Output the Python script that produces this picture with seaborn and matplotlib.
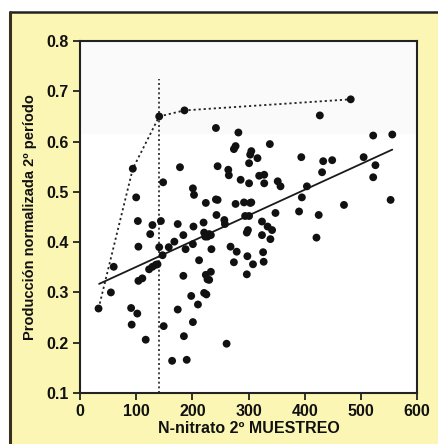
import numpy as np
import pandas as pd
import seaborn as sns
import matplotlib
import matplotlib.pyplot as plt
from matplotlib.patches import Rectangle
from matplotlib.lines import Line2D

matplotlib.use("Agg")

# puntos observados (N-nitrato, produccion normalizada)
nitrato = [
    33, 55, 60, 94, 100, 103, 104, 104, 111, 91, 92, 102, 117, 125, 129, 123,
    129, 135, 138, 141, 144, 141, 147, 148, 149, 158, 164, 174, 168, 174, 178,
    184, 184, 185, 190, 188, 186, 201, 203, 202, 201, 198, 201, 210, 212, 220,
    221, 224, 223, 227, 230, 233, 224, 227, 230, 221, 225, 233, 234, 242, 242,
    245, 243, 245, 257, 258, 261, 264, 265, 268, 274, 277, 274, 279, 277, 282,
    286, 292, 294, 297, 299, 298, 297, 301, 301, 303, 305, 303, 305, 301, 308,
    316, 319, 324, 324, 326, 327, 328, 328, 334, 338, 339, 342, 348, 352, 357,
    390, 394, 395, 404, 421, 425, 427, 431, 433, 449, 470, 505, 522, 522, 526,
    553, 556, 482,
]
produccion = [
    0.268, 0.300, 0.351, 0.546, 0.489, 0.442, 0.391, 0.323, 0.328, 0.269, 0.236,
    0.258, 0.206, 0.416, 0.434, 0.346, 0.351, 0.355, 0.356, 0.650, 0.442, 0.390,
    0.374, 0.519, 0.233, 0.390, 0.164, 0.266, 0.401, 0.436, 0.549, 0.414, 0.333,
    0.213, 0.166, 0.386, 0.662, 0.507, 0.494, 0.431, 0.396, 0.293, 0.241, 0.276,
    0.364, 0.439, 0.419, 0.478, 0.411, 0.411, 0.416, 0.414, 0.335, 0.326, 0.325,
    0.299, 0.296, 0.341, 0.386, 0.627, 0.485, 0.484, 0.454, 0.551, 0.444, 0.436,
    0.198, 0.544, 0.533, 0.391, 0.585, 0.591, 0.360, 0.381, 0.476, 0.618, 0.524,
    0.479, 0.452, 0.419, 0.424, 0.372, 0.336, 0.517, 0.557, 0.574, 0.581, 0.478,
    0.479, 0.452, 0.356, 0.567, 0.532, 0.441, 0.414, 0.380, 0.361, 0.534, 0.517,
    0.431, 0.595, 0.406, 0.424, 0.458, 0.521, 0.511, 0.461, 0.569, 0.489, 0.511,
    0.409, 0.454, 0.652, 0.539, 0.561, 0.563, 0.474, 0.569, 0.529, 0.612, 0.553,
    0.484, 0.614, 0.684,
]

# linea limite superior
limite_x = [33, 94, 141, 186, 482]
limite_y = [0.268, 0.546, 0.650, 0.662, 0.684]

# recta de regresion (extremos)
recta_x = [34, 556]
recta_y = [0.317, 0.584]

# umbral critico
umbral_x = [141, 141]
umbral_y = [0.1, 0.725]

df = pd.DataFrame({"nitrato": nitrato, "produccion": produccion})

sns.set_style("ticks")
plt.rcParams["font.family"] = ["Liberation Sans", "DejaVu Sans"]
plt.rcParams["font.weight"] = "bold"

fig = plt.figure(figsize=(4.39, 4.44), dpi=100, facecolor="white")
fig.patch.set_edgecolor("none")
fig.patch.set_linewidth(0)
# fondo amarillo con marco (solo arriba e izquierda)
x0, y1 = 10 / 439, 1 - 12 / 444
fig.patches.append(Rectangle((x0, 0), 1.5, y1, transform=fig.transFigure,
                             facecolor="#fcf6b4", edgecolor="none", lw=0,
                             zorder=-5))
fig.lines.append(Line2D([x0, 1.2], [y1, y1], transform=fig.transFigure,
                        color="#222222", lw=1.8, zorder=-4))
fig.lines.append(Line2D([x0, x0], [-0.2, y1], transform=fig.transFigure,
                        color="#3a3020", lw=2.2, zorder=-4))

ax = fig.add_axes([80 / 439, 51 / 444, 337 / 439, 352 / 444])
ax.set_facecolor("white")
ax.axhspan(0.615, 0.8, color="#fafafb", zorder=0, lw=0)

dot = (0, (1.2, 1.6))
sns.lineplot(x=limite_x, y=limite_y, ax=ax, color="#222222", lw=1.3,
             linestyle=dot, estimator=None, sort=False, zorder=2)
sns.lineplot(x=umbral_x, y=umbral_y, ax=ax, color="#222222", lw=1.2,
             linestyle=dot, estimator=None, sort=False, zorder=2)
sns.lineplot(x=recta_x, y=recta_y, ax=ax, color="#1a1a1a", lw=1.3,
             estimator=None, zorder=2)
sns.scatterplot(data=df, x="nitrato", y="produccion", ax=ax, color="#111111",
                s=32, edgecolor="none", zorder=3)

ax.set_xlim(0, 600)
ax.set_ylim(0.1, 0.8)
ax.set_xticks([0, 100, 200, 300, 400, 500, 600])
ax.set_yticks([0.1, 0.2, 0.3, 0.4, 0.5, 0.6, 0.7, 0.8])
ax.set_yticklabels(["0.1", "0.2", "0.3", "0.4", "0.5", "0.6", "0.7", "0.8"])
ax.tick_params(direction="out", length=5, width=1.2, labelsize=11.5,
               colors="#111111", pad=3)
for sp in ax.spines.values():
    sp.set_visible(True)
    sp.set_linewidth(1.5)
    sp.set_color("#222222")

ax.set_xlabel("N-nitrato 2º MUESTREO", fontsize=11.5, fontweight="bold",
              labelpad=1, color="#111111")
ax.set_ylabel("Producción normalizada 2º período", fontsize=10.5,
              fontweight="bold", labelpad=7, color="#111111")
for lab in ax.get_xticklabels() + ax.get_yticklabels():
    lab.set_fontweight("bold")

fig.savefig("out.png", dpi=100, facecolor=fig.get_facecolor(),
            edgecolor="none")
